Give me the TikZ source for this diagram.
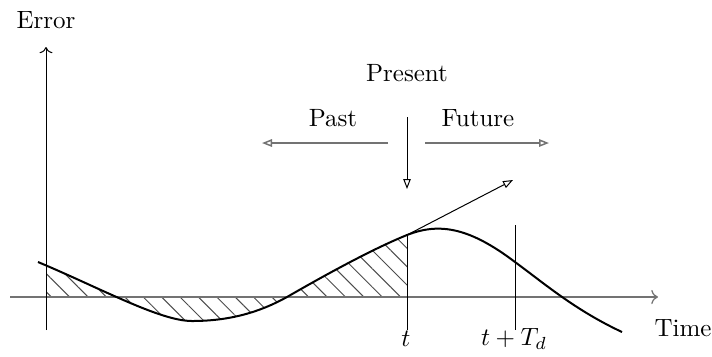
\documentclass[tikz,border=0pt]{standalone}
\usetikzlibrary{arrows.meta,patterns.meta}
\begin{document}
\begin{tikzpicture}[x=0.4pt,y=-0.4pt,
  axisline/.style={black!55,line width=0.5pt,->},
  thin line/.style={line width=0.4pt},
  opentip/.style={-{Triangle[open,length=4pt,width=3pt]},line width=0.4pt},
  grayopentip/.style={-{Triangle[open,length=4pt,width=3pt]},line width=0.6pt,black!55},
  lbl/.style={inner sep=0pt,font=\normalsize}]
\useasboundingbox (0,0) rectangle (712,356);
\def\errcurve{(38,262) .. controls (100,288) and (160,321) .. (192,321)
  .. controls (230,321) and (260,312) .. (287,297)
  .. controls (320,278) and (370,250) .. (407,235)
  .. controls (440,222) and (470,228) .. (515,262)
  .. controls (545,284) and (575,310) .. (622,332)}
% hatch
\begin{scope}
\clip (46,0) rectangle (407,400);
\fill[pattern={Lines[angle=-45,distance=5.2pt,line width=0.4pt]},pattern color=black!70]
  \errcurve -- (622,297) -- (38,297) -- cycle;
\end{scope}
% axes
\coordinate (xs) at (10,297);
\coordinate (xe) at (658,297);
\coordinate (ys) at (46,330);
\coordinate (ye) at (46,47);
\draw[axisline] (xs) -- (xe);
\draw[thin line,->] (ys) -- (ye);
% curve
\draw[line width=0.8pt] \errcurve;
% vertical markers
\coordinate (p) at (407,235);
\coordinate (pb) at (407,330);
\coordinate (q) at (515,225);
\coordinate (qb) at (515,330);
\draw[thin line] (p) -- (pb);
\draw[thin line] (q) -- (qb);
% tangent
\coordinate (tg) at (513,180);
\draw[opentip] (p) -- (tg);
% labels
\node[lbl] (err) at (46,20) {Error};
\node[lbl] (time) at (683,328) {Time};
\node[lbl] (t) at (406,339) {$t$};
\node[lbl] (ttd) at (514,339) {$t+T_d$};
\node[lbl] (pres) at (407,73) {Present};
\node[lbl] (past) at (333,118) {Past};
\node[lbl] (fut) at (478,118) {Future};
% present / past / future arrows
\coordinate (pa) at (407,117);
\coordinate (pb2) at (407,189);
\draw[opentip] (pa) -- (pb2);
\coordinate (l1) at (388,143);
\coordinate (l2) at (262,143);
\draw[grayopentip] (l1) -- (l2);
\coordinate (r1) at (425,143);
\coordinate (r2) at (549,143);
\draw[grayopentip] (r1) -- (r2);
\end{tikzpicture}
\end{document}
